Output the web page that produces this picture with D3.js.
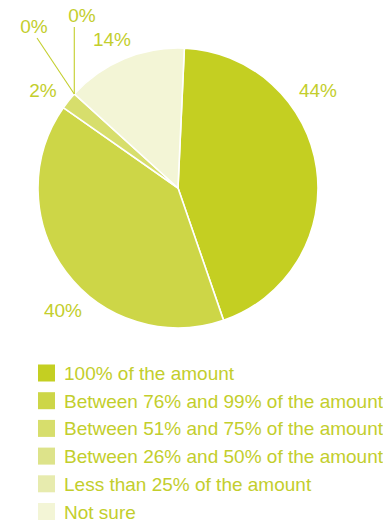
<!DOCTYPE html>
<html>
<head>
<meta charset="utf-8">
<script src="https://cdn.jsdelivr.net/npm/d3@7"></script>
<style>
  html, body { margin: 0; padding: 0; background: #ffffff; }
  svg { display: block; }
  text { font-family: "Liberation Sans", Arial, Helvetica, sans-serif; }
</style>
</head>
<body>
<svg id="chart" width="383" height="521"></svg>
<script>
// Survey answers: share of the amount covered
const categories = [
  "100% of the amount",
  "Between 76% and 99% of the amount",
  "Between 51% and 75% of the amount",
  "Between 26% and 50% of the amount",
  "Less than 25% of the amount",
  "Not sure"
];
const values = [44, 40, 2, 0, 0, 14];
const colors = ["#c4cf22", "#cdd647", "#d7de6c", "#dde38a", "#e7ebae", "#f3f5d6"];
const labelText = values.map(v => v + "%");

// Label anchors (centre of text) and optional leader lines
const labelLayout = [
  { x: 318, y: 90 },
  { x: 63, y: 310 },
  { x: 43, y: 90 },
  { x: 34, y: 26, leader: true },
  { x: 82, y: 15, leader: true },
  { x: 112, y: 39 }
];

const textColor = "#c3ce2c";
const W = 383, H = 521;
const cx = 178, cy = 188, R = 140;
const startDeg = 2.6;

const svg = d3.select("#chart");
const data = categories.map((c, i) => ({ cat: c, value: values[i], color: colors[i], label: labelText[i], lay: labelLayout[i] }));

const pie = d3.pie()
  .value(d => d.value)
  .sort(null)
  .startAngle(startDeg * Math.PI / 180)
  .endAngle((startDeg + 360) * Math.PI / 180);

const arcs = pie(data);
const arc = d3.arc().innerRadius(0).outerRadius(R);

const g = svg.append("g").attr("transform", `translate(${cx},${cy})`);

g.selectAll("path.slice")
  .data(arcs.filter(a => a.data.value > 0))
  .join("path")
  .attr("class", "slice")
  .attr("d", arc)
  .attr("fill", d => d.data.color)
  .attr("stroke", "#ffffff")
  .attr("stroke-width", 1.6)
  .attr("stroke-linejoin", "round");

// Leader lines for the zero-size slices: from the rim point to the label
const rimPoint = a => {
  const ang = a.startAngle;
  return [cx + R * Math.sin(ang), cy - R * Math.cos(ang)];
};
arcs.forEach(a => {
  if (!a.data.lay.leader) return;
  const [px, py] = rimPoint(a);
  const lx = a.data.lay.x;
  const ly = a.data.lay.y + 12;
  const tx = a.data.lay.x < px - 10 ? lx + 3 : px;
  svg.append("line")
    .attr("x1", px).attr("y1", py)
    .attr("x2", tx).attr("y2", ly)
    .attr("stroke", textColor)
    .attr("stroke-width", 1.1);
});

svg.selectAll("text.pct")
  .data(data)
  .join("text")
  .attr("class", "pct")
  .attr("x", d => d.lay.x)
  .attr("y", d => d.lay.y)
  .attr("text-anchor", "middle")
  .attr("dominant-baseline", "central")
  .attr("font-size", 19)
  .attr("fill", textColor)
  .text(d => d.label);

// Legend
const legendY = d3.scalePoint().domain(categories).range([373, 511.5]);
const legend = svg.append("g");
const rows = legend.selectAll("g.row")
  .data(data)
  .join("g")
  .attr("class", "row")
  .attr("transform", d => `translate(0,${legendY(d.cat)})`);

rows.append("rect")
  .attr("x", 38)
  .attr("y", -8.5)
  .attr("width", 17)
  .attr("height", 17)
  .attr("fill", d => d.color);

rows.append("text")
  .attr("x", 64)
  .attr("y", 7)
  .attr("font-size", 19)
  .attr("fill", textColor)
  .text(d => d.cat);
</script>
</body>
</html>
